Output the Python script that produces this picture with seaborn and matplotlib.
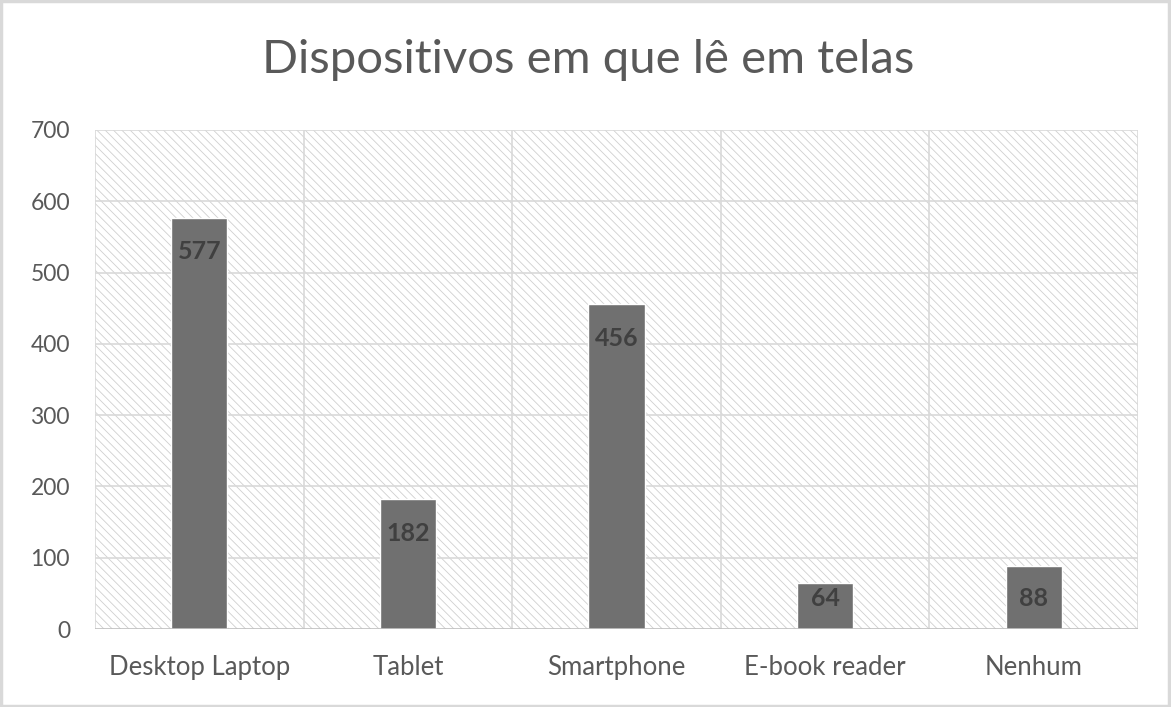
import matplotlib.pyplot as plt
import seaborn as sns
from matplotlib.patches import Rectangle

# Dados do gráfico
dispositivos = ['Desktop Laptop', 'Tablet', 'Smartphone', 'E-book reader', 'Nenhum']
leitores = [577, 182, 456, 64, 88]
y_ticks = [0, 100, 200, 300, 400, 500, 600, 700]

sns.set_theme(style="white")
plt.rcParams['font.family'] = ['Lato', 'DejaVu Sans']
plt.rcParams['hatch.linewidth'] = 0.6
plt.rcParams['hatch.color'] = '#d0d0d0'

texto = '#595959'
grade = '#d9d9d9'

fig = plt.figure(figsize=(11.71, 7.07), dpi=100)
ax = fig.add_axes([95 / 1171, 1 - 629 / 707, (1138 - 95) / 1171, (629 - 130) / 707])

# fundo hachurado da área do gráfico
ax.add_patch(Rectangle((0, 0), 1, 1, transform=ax.transAxes, facecolor='white',
                       edgecolor='#d0d0d0', hatch='\\' * 4, linewidth=0, zorder=0))

sns.barplot(x=dispositivos, y=leitores, color='#707070', width=0.27,
            saturation=1, ax=ax, zorder=3)

ax.set_ylim(0, 700)
ax.set_xlim(-0.5, len(dispositivos) - 0.5)
ax.set_yticks(y_ticks)
for y in y_ticks[1:]:
    ax.axhline(y, color=grade, lw=1.2, zorder=1)
for x in range(len(dispositivos) + 1):
    ax.axvline(x - 0.5, color=grade, lw=1.2, zorder=1)
ax.axhline(0, color='#bfbfbf', lw=1.2, zorder=4)

for s in ax.spines.values():
    s.set_visible(False)

ax.tick_params(axis='both', length=0, labelcolor=texto)
ax.tick_params(axis='x', pad=19, labelsize=18.5)
ax.tick_params(axis='y', pad=18, labelsize=16.5)

# rótulos de valor dentro das barras (presos acima da base nas barras curtas)
for p, v in zip(ax.containers[0], leitores):
    y_rot = max(v - 48, 43)
    ax.text(p.get_x() + p.get_width() / 2, y_rot, f'{v}', ha='center', va='center',
            fontsize=18, fontweight='bold', color='#404040', zorder=5)

fig.text(0.502, 1 - 60 / 707, 'Dispositivos em que lê em telas', ha='center', va='center',
         fontsize=34, color=texto)

# moldura do gráfico
fig.add_artist(Rectangle((0.001, 0.002), 0.997, 0.996, transform=fig.transFigure,
                         fill=False, edgecolor=grade, linewidth=2.5))

plt.savefig('out.png', dpi=100)
